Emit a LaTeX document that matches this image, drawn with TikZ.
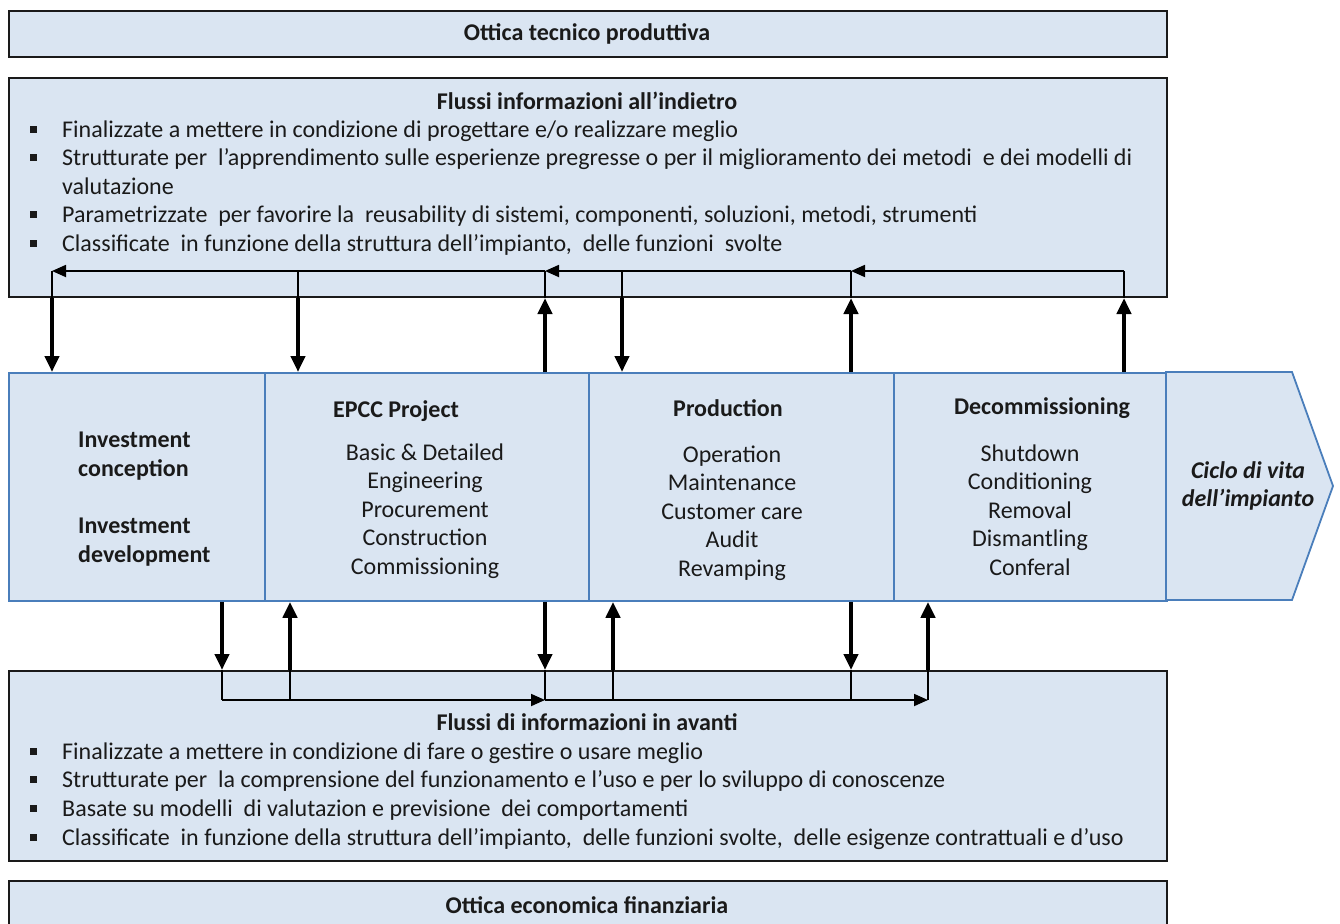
\documentclass[tikz,border=0pt]{standalone}
\usepackage{fontspec}
\setmainfont{Carlito}
\usetikzlibrary{arrows.meta}
\definecolor{fillb}{HTML}{DAE5F2}
\definecolor{edgeb}{HTML}{4A7EBB}
\definecolor{ink}{HTML}{1A1A1A}
\newcommand\bsq{\makebox[32pt][l]{\rule[4pt]{7pt}{7pt}}}
\begin{document}
\begin{tikzpicture}[x=1pt,y=-1pt,
  txt/.style={font=\fontsize{24}{28.6}\selectfont, text=ink, inner sep=0pt},
  boldtxt/.style={txt, font=\fontsize{24}{28.6}\selectfont\bfseries},
  bline/.style={txt, anchor=base west},
  framebox/.style={draw=ink, line width=2pt, fill=fillb, anchor=north west, inner sep=0pt},
  seg/.style={draw=edgeb, line width=1.8pt, fill=fillb, anchor=north west, inner sep=0pt, minimum height=228pt},
  thin/.style={draw=black, line width=1.8pt},
  thinarr/.style={thin, -{Triangle[width=12pt,length=14pt]}},
  thickarr/.style={draw=black, line width=4.5pt, -{Triangle[width=14pt,length=16pt]}}
]
\useasboundingbox (0,0) rectangle (1340,923);

% frame boxes
\node[framebox, minimum width=1158pt, minimum height=46pt] (tb) at (8,10) {};
\node[boldtxt] (tbt) at (587,34) {Ottica tecnico produttiva};

\node[framebox, minimum width=1158pt, minimum height=219pt] (fb) at (8,77) {};
\node[boldtxt] (fbh) at (587,101) {Flussi informazioni all’indietro};
\node[bline] (fb1) at (30,137) {\bsq Finalizzate a mettere in condizione di progettare e/o realizzare meglio};
\node[bline] (fb2) at (30,165) {\bsq Strutturate per\ \ l’apprendimento sulle esperienze pregresse o per il miglioramento dei metodi\ \ e dei modelli di};
\node[bline] (fb3) at (62,194) {valutazione};
\node[bline] (fb4) at (30,222) {\bsq Parametrizzate\ \ per favorire la\ \ reusability di sistemi, componenti, soluzioni, metodi, strumenti};
\node[bline] (fb5) at (30,251) {\bsq Classificate\ \ in funzione della struttura dell’impianto,\ \ delle funzioni\ \ svolte};

\node[framebox, minimum width=1158pt, minimum height=190pt] (ff) at (8,670) {};
\node[boldtxt] (ffh) at (587,722) {Flussi di informazioni in avanti};
\node[bline] (ff1) at (30,759) {\bsq Finalizzate a mettere in condizione di fare o gestire o usare meglio};
\node[bline] (ff2) at (30,787) {\bsq Strutturate per\ \ la comprensione del funzionamento e l’uso e per lo sviluppo di conoscenze};
\node[bline] (ff3) at (30,816) {\bsq Basate su modelli\ \ di valutazion e previsione\ \ dei comportamenti};
\node[bline] (ff4) at (30,845) {\bsq Classificate\ \ in funzione della struttura dell’impianto,\ \ delle funzioni svolte,\ \ delle esigenze contrattuali e d’uso};

\node[framebox, minimum width=1158pt, minimum height=60pt] (bb) at (8,880) {};
\node[boldtxt] (bbt) at (587,905) {Ottica economica finanziaria};

% process row
\node[seg, minimum width=256pt] (s1) at (8,372) {};
\node[seg, minimum width=324pt] (s2) at (264,372) {};
\node[seg, minimum width=305pt] (s3) at (588,372) {};
\node[seg, minimum width=273pt] (s4) at (893,372) {};
\draw[draw=edgeb, line width=1.8pt, fill=fillb] (1166,372) -- (1292,372) -- (1333,486) -- (1292,600) -- (1166,600) -- cycle;

\node[boldtxt, align=left, anchor=west] (s1t) at (78,499) {Investment\\conception\\[28.6pt]Investment\\development};
\node[boldtxt] (s2h) at (396,411) {EPCC Project};
\node[txt, align=center] (s2t) at (425,511) {Basic \& Detailed\\Engineering\\Procurement\\Construction\\Commissioning};
\node[boldtxt] (s3h) at (728,408) {Production};
\node[txt, align=center] (s3t) at (732,513) {Operation\\Maintenance\\Customer care\\Audit\\Revamping};
\node[boldtxt] (s4h) at (1042,408) {Decommissioning};
\node[txt, align=center] (s4t) at (1030,510) {Shutdown\\Conditioning\\Removal\\Dismantling\\Conferal};
\node[txt, font=\fontsize{24}{28.6}\selectfont\bfseries\itshape, align=center] (s5t) at (1248,486) {Ciclo di vita\\dell’impianto};

% backward flow coordinates
\coordinate (b1) at (52,271);
\coordinate (b2) at (298,271);
\coordinate (b3) at (545,271);
\coordinate (b4) at (622,271);
\coordinate (b5) at (851,271);
\coordinate (b6) at (1124,271);
\draw[thin] (b6 |- fb.south) -- (b6);
\draw[thinarr] (b6) -- (b5);
\draw[thinarr] (b5) -- (b3);
\draw[thinarr] (b3) -- (b1);
\draw[thin] (b1) -- (b1 |- fb.south);
\draw[thin] (b2) -- (b2 |- fb.south);
\draw[thin] (b4) -- (b4 |- fb.south);
\draw[thin] (b3 |- fb.south) -- (b3);
\draw[thin] (b5 |- fb.south) -- (b5);
\draw[thickarr] (b1 |- fb.south) -- (b1 |- s1.north);
\draw[thickarr] (b2 |- fb.south) -- (b2 |- s2.north);
\draw[thickarr] (b4 |- fb.south) -- (b4 |- s3.north);
\draw[thickarr] (b3 |- s2.north) -- (b3 |- fb.south);
\draw[thickarr] (b5 |- s3.north) -- (b5 |- fb.south);
\draw[thickarr] (b6 |- s4.north) -- (b6 |- fb.south);

% forward flow coordinates
\coordinate (f1) at (222,700);
\coordinate (f2) at (290,700);
\coordinate (f3) at (545,700);
\coordinate (f4) at (613,700);
\coordinate (f5) at (851,700);
\coordinate (f6) at (928,700);
\draw[thin] (f1 |- ff.north) -- (f1);
\draw[thinarr] (f1) -- (f3);
\draw[thinarr] (f3) -- (f6);
\draw[thin] (f6) -- (f6 |- ff.north);
\draw[thin] (f2) -- (f2 |- ff.north);
\draw[thin] (f4) -- (f4 |- ff.north);
\draw[thin] (f3 |- ff.north) -- (f3);
\draw[thin] (f5 |- ff.north) -- (f5);
\draw[thickarr] (f1 |- s1.south) -- (f1 |- ff.north);
\draw[thickarr] (f3 |- s2.south) -- (f3 |- ff.north);
\draw[thickarr] (f5 |- s3.south) -- (f5 |- ff.north);
\draw[thickarr] (f2 |- ff.north) -- (f2 |- s2.south);
\draw[thickarr] (f4 |- ff.north) -- (f4 |- s3.south);
\draw[thickarr] (f6 |- ff.north) -- (f6 |- s4.south);
\end{tikzpicture}
\end{document}
